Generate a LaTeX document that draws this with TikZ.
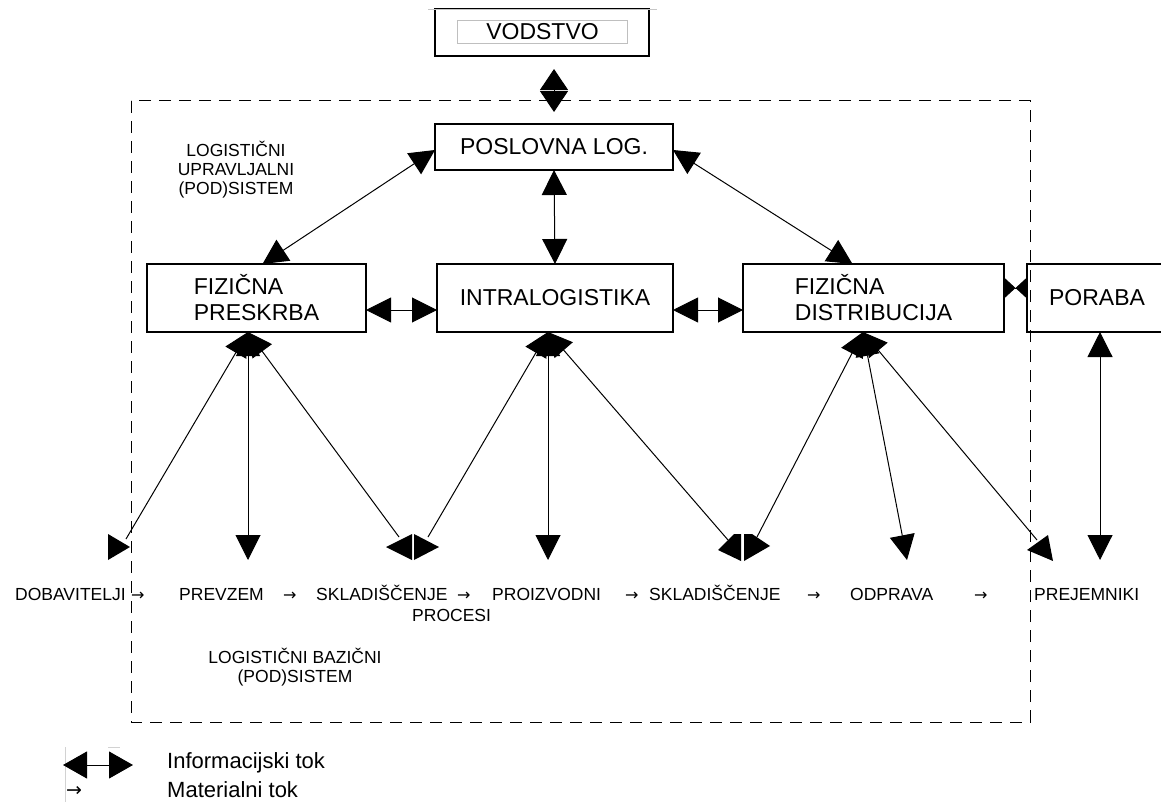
\documentclass[tikz,border=0pt]{standalone}
\usepackage{fontspec}
\setmainfont{Liberation Sans}
\newfontfamily\symfont{DejaVu Sans}
\usetikzlibrary{arrows.meta}

\begin{document}
\begin{tikzpicture}[x=1pt,y=-1pt,
  box/.style={draw, line width=1.6pt, inner sep=0pt, outer sep=0pt,
    anchor=north west, font=\fontsize{23}{26}\selectfont},
  small/.style={inner sep=0pt, align=center, font=\fontsize{17.5}{19}\selectfont},
  flow/.style={inner sep=0pt, anchor=base west, font=\fontsize{17.5}{20}\selectfont},
  flowarrow/.style={inner sep=0pt, anchor=base west, font=\symfont\fontsize{16}{20}\selectfont},
  legend/.style={inner sep=0pt, anchor=base west, font=\fontsize{22}{26}\selectfont},
  link/.style={line width=1pt},
  frame/.style={line width=1pt, dash pattern=on 12pt off 8pt},
  big/.tip={Triangle[length=25pt,width=25pt]},
  mid/.tip={Triangle[length=21pt,width=28pt]},
  fan/.tip={Triangle[length=24pt,width=24pt]},
  leg/.tip={Triangle[length=24pt,width=27pt]},
  tie/.tip={Triangle[reversed,length=11.5pt,width=21pt]},
]
\useasboundingbox (0,0) rectangle (1161,802);

% management box on top
\node[box, minimum width=214, minimum height=47] (vod) at (435,9) {};
\draw[gray!45, line width=1pt] (428,10) -- (657,10);
\node[draw=gray!50, line width=1pt, inner sep=0pt, minimum width=170, minimum height=23,
  anchor=north west, font=\fontsize{23}{26}\selectfont] (vodin) at (457,20) {VODSTVO};

% dashed outline of the logistics system
\draw[frame] (131,101) rectangle (1030,722);

% control level
\node[box, minimum width=238, minimum height=46] (posl) at (435,124) {POSLOVNA LOG.};
\node[small] (upr) at (236,170) {LOGISTIČNI\\UPRAVLJALNI\\(POD)SISTEM};

% physical subsystems
\node[box, minimum width=219, minimum height=68, align=left] (fp) at (147,264) {FIZIČNA\\PRESKRBA};
\node[box, minimum width=236, minimum height=68] (intra) at (437,264) {INTRALOGISTIKA};
\node[box, minimum width=261, minimum height=68, align=left] (fd) at (743,264) {FIZIČNA\\DISTRIBUCIJA};
\node[box, minimum width=140, minimum height=68] (por) at (1027,264) {PORABA};

% information flows between the boxes
\draw[link, mid-mid, shorten <=13pt, shorten >=12pt] (posl.north |- vod.south) -- (posl.north);
\draw[link, big-big] (posl.south) -- (intra.north);
\draw[link, big-big] ([yshift=20pt]posl.south west) -- ([xshift=6pt]fp.north);
\draw[link, big-big] ([yshift=20pt]posl.south east) -- ([xshift=-21pt]fd.north);
\draw[link, big-big] ([yshift=-46pt]fp.north east) -- ([yshift=-46pt]intra.north west);
\draw[link, big-big] ([yshift=-46pt]intra.north east) -- ([yshift=-46pt]fd.north west);
\draw[link, tie-tie] ([yshift=-24pt]fd.north east) -- ([yshift=-24pt]por.north west);

% fan points under the boxes and ends above the process chain
\coordinate (fpfan) at ([xshift=-8.5pt]fp.south);
\coordinate (infan) at ([xshift=-7pt]intra.south);
\coordinate (fdfan) at ([xshift=-10.5pt]fd.south);
\coordinate (dob) at (126,539);
\coordinate (prev) at (248,560);
\coordinate (sklA) at (399,537);
\coordinate (sklB) at (428,537);
\coordinate (proiz) at (548,560);
\coordinate (sklC) at (728,540);
\coordinate (sklD) at (757,537);
\coordinate (odp) at (907,560);
\coordinate (prej) at (1037,540);
\coordinate (porend) at (1100,560);

\draw[link, fan-] (fpfan) -- (dob);
\draw[link, fan-big] (fpfan) -- (prev);
\draw[link, fan-] (fpfan) -- (sklA);
\draw[link, fan-] (infan) -- (sklB);
\draw[link, fan-big] (infan) -- (proiz);
\draw[link, fan-] (infan) -- (sklC);
\draw[link, fan-] (fdfan) -- (sklD);
\draw[link, fan-big] (fdfan) -- (odp);
\draw[link, fan-] (fdfan) -- (prej);
\draw[link, big-big] ([xshift=3pt]por.south) -- (porend);

% arrow heads at the lower ends
\fill (108,534) -- (108,560) -- (130,547) -- cycle;
\fill (412,534) -- (412,560) -- (386,547) -- cycle;
\fill (414,534) -- (414,560) -- (439,547) -- cycle;
\fill (718,550) -- (734,534) -- (741,534) -- (741,561) -- cycle;
\fill (744,534) -- (752,534) -- (770,546) -- (744,561) -- cycle;
\fill (1048,535) -- (1053,561) -- (1027,550) -- cycle;

% process chain
\node[flow] (t1) at (15,600) {DOBAVITELJI};
\node[flowarrow] (r1) at (131,600) {→};
\node[flow] (t2) at (179,600) {PREVZEM};
\node[flowarrow] (r2) at (283,600) {→};
\node[flow] (t3) at (316,600) {SKLADIŠČENJE};
\node[flowarrow] (r3) at (457,600) {→};
\node[flow] (t4) at (492,600) {PROIZVODNI};
\node[flow] (t4b) at (412,621) {PROCESI};
\node[flowarrow] (r4) at (625,600) {→};
\node[flow] (t5) at (649,600) {SKLADIŠČENJE};
\node[flowarrow] (r5) at (807,600) {→};
\node[flow] (t6) at (850,600) {ODPRAVA};
\node[flowarrow] (r6) at (974,600) {→};
\node[flow] (t7) at (1034,600) {PREJEMNIKI};

\node[small] (baz) at (295,667) {LOGISTIČNI BAZIČNI\\(POD)SISTEM};

% legend
\draw[gray!35, line width=0.8pt] (65,747) -- (65,802);
\draw[gray!35, line width=0.8pt] (108,747) -- (120,747);
\coordinate (legA) at (63,765);
\coordinate (legB) at (133,765);
\draw[link, leg-leg] (legA) -- (legB);
\node[flowarrow, font=\symfont\fontsize{19}{22}\selectfont] (legm) at (66,796) {→};
\node[legend] (li) at (167,768) {Informacijski tok};
\node[legend] (lm) at (167,797) {Materialni tok};
\end{tikzpicture}
\end{document}
